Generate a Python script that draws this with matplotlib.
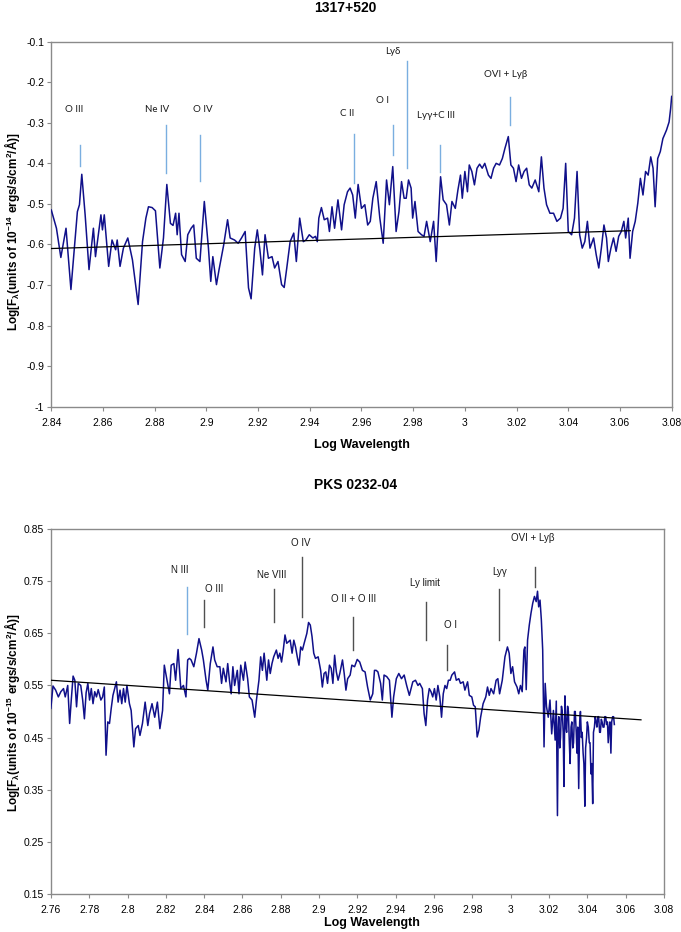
import numpy as np
import matplotlib
matplotlib.use('Agg')
import matplotlib.pyplot as plt
from matplotlib import rcParams
from matplotlib.ticker import FuncFormatter

###############################################################################
# Plotting style
###############################################################################
rcParams.update({'font.family': ['Liberation Sans', 'DejaVu Sans'],
                 'mathtext.fontset': 'custom',
                 'mathtext.rm': 'Liberation Sans:bold',
                 'mathtext.it': 'Liberation Sans:bold',
                 'mathtext.bf': 'Liberation Sans:bold',
                 'mathtext.default': 'bf'})

SPEC_COLOR = '#10108a'
AXIS_COLOR = '#8a8a8a'
LINE_BLUE = '#7aaee0'
LINE_GRAY = '#505050'
TICK_FONT = ['Liberation Sans Narrow', 'Liberation Sans', 'DejaVu Sans']
NOTE_FONT = ['Lato', 'Open Sans', 'DejaVu Sans']

###############################################################################
# Data: 1317+520
###############################################################################
top_x = [2.8400, 2.8420, 2.8437, 2.8457, 2.8476, 2.8501, 2.8509, 2.8518, 2.8531, 2.8546,
         2.8563, 2.8571, 2.8592, 2.8598, 2.8605, 2.8622, 2.8635, 2.8649, 2.8655, 2.8666,
         2.8679, 2.8696, 2.8714, 2.8736, 2.8753, 2.8766, 2.8776, 2.8790, 2.8803, 2.8820,
         2.8834, 2.8847, 2.8861, 2.8871, 2.8881, 2.8887, 2.8894, 2.8904, 2.8918, 2.8928,
         2.8941, 2.8951, 2.8961, 2.8975, 2.8992, 2.9008, 2.9017, 2.9025, 2.9039, 2.9049,
         2.9067, 2.9082, 2.9092, 2.9109, 2.9123, 2.9136, 2.9150, 2.9163, 2.9173, 2.9187,
         2.9197, 2.9207, 2.9217, 2.9227, 2.9240, 2.9254, 2.9264, 2.9277, 2.9291, 2.9301,
         2.9311, 2.9324, 2.9338, 2.9348, 2.9361, 2.9375, 2.9385, 2.9398, 2.9412, 2.9422,
         2.9429, 2.9435, 2.9445, 2.9456, 2.9469, 2.9476, 2.9486, 2.9496, 2.9509, 2.9523,
         2.9533, 2.9546, 2.9556, 2.9566, 2.9576, 2.9587, 2.9600, 2.9613, 2.9624, 2.9634,
         2.9644, 2.9657, 2.9671, 2.9684, 2.9697, 2.9708, 2.9721, 2.9734, 2.9745, 2.9755,
         2.9765, 2.9773, 2.9782, 2.9792, 2.9798, 2.9807, 2.9819, 2.9832, 2.9842, 2.9852,
         2.9866, 2.9879, 2.9889, 2.9896, 2.9906, 2.9916, 2.9929, 2.9940, 2.9950, 2.9963,
         2.9973, 2.9983, 2.9990, 3.0000, 3.0010, 3.0017, 3.0027, 3.0037, 3.0047, 3.0057,
         3.0067, 3.0077, 3.0091, 3.0101, 3.0111, 3.0121, 3.0134, 3.0145, 3.0155, 3.0168,
         3.0178, 3.0188, 3.0198, 3.0208, 3.0219, 3.0229, 3.0239, 3.0249, 3.0259, 3.0272,
         3.0286, 3.0296, 3.0306, 3.0316, 3.0329, 3.0343, 3.0356, 3.0370, 3.0380, 3.0390,
         3.0400, 3.0413, 3.0424, 3.0434, 3.0444, 3.0454, 3.0464, 3.0474, 3.0484, 3.0498,
         3.0508, 3.0518, 3.0528, 3.0538, 3.0548, 3.0555, 3.0565, 3.0575, 3.0585, 3.0595,
         3.0605, 3.0615, 3.0622, 3.0632, 3.0639, 3.0649, 3.0659, 3.0669, 3.0679, 3.0689,
         3.0699, 3.0709, 3.0719, 3.0728, 3.0736, 3.0746, 3.0756, 3.0766, 3.0780, 3.0790,
         3.0796, 3.0800]
top_y = [-0.515, -0.560, -0.632, -0.560, -0.711, -0.519, -0.502, -0.427, -0.527, -0.662,
         -0.560, -0.630, -0.527, -0.564, -0.527, -0.654, -0.589, -0.613, -0.589, -0.654,
         -0.609, -0.584, -0.638, -0.748, -0.593, -0.535, -0.507, -0.509, -0.517, -0.658,
         -0.584, -0.452, -0.548, -0.553, -0.523, -0.576, -0.523, -0.625, -0.642, -0.576,
         -0.560, -0.552, -0.634, -0.642, -0.494, -0.609, -0.691, -0.630, -0.699, -0.662,
         -0.601, -0.539, -0.584, -0.589, -0.597, -0.584, -0.568, -0.707, -0.734, -0.609,
         -0.564, -0.613, -0.675, -0.576, -0.634, -0.630, -0.658, -0.642, -0.699, -0.706,
         -0.658, -0.593, -0.572, -0.642, -0.535, -0.593, -0.589, -0.576, -0.584, -0.580,
         -0.593, -0.535, -0.509, -0.539, -0.535, -0.568, -0.507, -0.560, -0.490, -0.564,
         -0.502, -0.470, -0.461, -0.478, -0.535, -0.452, -0.511, -0.502, -0.552, -0.543,
         -0.486, -0.445, -0.535, -0.597, -0.441, -0.502, -0.408, -0.568, -0.519, -0.445,
         -0.486, -0.486, -0.441, -0.461, -0.535, -0.494, -0.568, -0.576, -0.580, -0.543,
         -0.593, -0.543, -0.642, -0.560, -0.433, -0.490, -0.502, -0.552, -0.494, -0.511,
         -0.466, -0.429, -0.486, -0.420, -0.470, -0.404, -0.420, -0.453, -0.412, -0.402,
         -0.412, -0.400, -0.429, -0.437, -0.412, -0.400, -0.404, -0.388, -0.363, -0.334,
         -0.404, -0.412, -0.445, -0.404, -0.437, -0.420, -0.412, -0.453, -0.461, -0.441,
         -0.470, -0.384, -0.461, -0.502, -0.523, -0.523, -0.543, -0.535, -0.511, -0.400,
         -0.568, -0.576, -0.535, -0.420, -0.576, -0.609, -0.593, -0.543, -0.609, -0.584,
         -0.625, -0.658, -0.609, -0.552, -0.584, -0.642, -0.609, -0.584, -0.617, -0.580,
         -0.568, -0.543, -0.584, -0.535, -0.634, -0.568, -0.543, -0.498, -0.437, -0.478,
         -0.420, -0.429, -0.384, -0.412, -0.507, -0.388, -0.371, -0.339, -0.318, -0.298,
         -0.265, -0.235]
top_cont_x = [2.840, 3.064]
top_cont_y = [-0.610, -0.566]

top_names = ['O III', 'Ne IV', 'O IV', 'C II', 'O I', 'Lyδ', 'Lyγ+C III', 'OVI + Lyβ']
top_line_x = [2.8513, 2.8844, 2.8975, 2.9573, 2.9723, 2.9775, 2.9904, 3.0176]
top_line_top = [-0.355, -0.306, -0.330, -0.328, -0.306, -0.148, -0.355, -0.236]
top_line_bot = [-0.407, -0.423, -0.444, -0.448, -0.380, -0.412, -0.421, -0.305]
top_label_x = [2.8487, 2.8810, 2.8987, 2.9546, 2.9680, 2.9723, 2.9890, 3.0156]
top_label_y = [-0.267, -0.268, -0.268, -0.276, -0.244, -0.125, -0.281, -0.182]

###############################################################################
# Data: PKS 0232-04
###############################################################################
bot_x = [2.7600, 2.7611, 2.7625, 2.7639, 2.7652, 2.7666, 2.7675, 2.7688, 2.7698, 2.7707,
         2.7716, 2.7725, 2.7734, 2.7743, 2.7756, 2.7766, 2.7775, 2.7784, 2.7793, 2.7802,
         2.7811, 2.7820, 2.7829, 2.7838, 2.7847, 2.7861, 2.7870, 2.7879, 2.7888, 2.7897,
         2.7906, 2.7915, 2.7924, 2.7933, 2.7942, 2.7951, 2.7961, 2.7970, 2.7979, 2.7988,
         2.7997, 2.8010, 2.8019, 2.8033, 2.8042, 2.8056, 2.8065, 2.8078, 2.8092, 2.8106,
         2.8115, 2.8128, 2.8142, 2.8156, 2.8169, 2.8183, 2.8192, 2.8205, 2.8219, 2.8228,
         2.8242, 2.8251, 2.8264, 2.8278, 2.8292, 2.8305, 2.8314, 2.8323, 2.8332, 2.8346,
         2.8360, 2.8373, 2.8387, 2.8396, 2.8410, 2.8419, 2.8432, 2.8446, 2.8455, 2.8468,
         2.8482, 2.8491, 2.8500, 2.8514, 2.8523, 2.8532, 2.8541, 2.8550, 2.8559, 2.8573,
         2.8582, 2.8591, 2.8605, 2.8614, 2.8627, 2.8636, 2.8650, 2.8664, 2.8673, 2.8686,
         2.8695, 2.8704, 2.8713, 2.8727, 2.8736, 2.8745, 2.8754, 2.8763, 2.8777, 2.8786,
         2.8795, 2.8804, 2.8813, 2.8822, 2.8831, 2.8840, 2.8849, 2.8859, 2.8868, 2.8877,
         2.8886, 2.8895, 2.8904, 2.8913, 2.8922, 2.8936, 2.8945, 2.8954, 2.8963, 2.8972,
         2.8981, 2.8995, 2.9008, 2.9017, 2.9026, 2.9035, 2.9044, 2.9054, 2.9063, 2.9072,
         2.9081, 2.9090, 2.9099, 2.9108, 2.9122, 2.9131, 2.9140, 2.9149, 2.9162, 2.9171,
         2.9185, 2.9199, 2.9212, 2.9226, 2.9240, 2.9253, 2.9267, 2.9280, 2.9289, 2.9298,
         2.9307, 2.9321, 2.9330, 2.9339, 2.9353, 2.9367, 2.9380, 2.9389, 2.9403, 2.9416,
         2.9430, 2.9444, 2.9457, 2.9471, 2.9480, 2.9489, 2.9503, 2.9516, 2.9525, 2.9539,
         2.9548, 2.9557, 2.9566, 2.9575, 2.9584, 2.9593, 2.9602, 2.9611, 2.9620, 2.9630,
         2.9639, 2.9648, 2.9657, 2.9666, 2.9675, 2.9684, 2.9693, 2.9707, 2.9716, 2.9729,
         2.9738, 2.9752, 2.9761, 2.9775, 2.9784, 2.9797, 2.9806, 2.9815, 2.9825, 2.9834,
         2.9843, 2.9856, 2.9870, 2.9879, 2.9888, 2.9897, 2.9911, 2.9924, 2.9933, 2.9942,
         2.9956, 2.9970, 2.9983, 2.9992, 3.0001, 3.0010, 3.0020, 3.0033, 3.0042, 3.0051,
         3.0060, 3.0069, 3.0074, 3.0081, 3.0088, 3.0097, 3.0106, 3.0115, 3.0124, 3.0133,
         3.0140, 3.0146, 3.0153, 3.0160, 3.0167, 3.0174, 3.0180, 3.0187, 3.0196, 3.0205,
         3.0214, 3.0223, 3.0232, 3.0238, 3.0244, 3.0248, 3.0251, 3.0256, 3.0260, 3.0265,
         3.0269, 3.0274, 3.0278, 3.0283, 3.0288, 3.0292, 3.0297, 3.0301, 3.0306, 3.0310,
         3.0315, 3.0319, 3.0324, 3.0328, 3.0333, 3.0337, 3.0342, 3.0346, 3.0350, 3.0355,
         3.0360, 3.0364, 3.0369, 3.0373, 3.0378, 3.0382, 3.0387, 3.0391, 3.0396, 3.0400,
         3.0405, 3.0410, 3.0414, 3.0419, 3.0423, 3.0428, 3.0432, 3.0437, 3.0441, 3.0446,
         3.0450, 3.0455, 3.0459, 3.0464, 3.0468, 3.0473, 3.0477, 3.0482, 3.0487, 3.0491,
         3.0496, 3.0500, 3.0505, 3.0509, 3.0514, 3.0518, 3.0523, 3.0527, 3.0532, 3.0537,
         3.0541]
bot_y = [0.506, 0.549, 0.541, 0.528, 0.538, 0.544, 0.528, 0.550, 0.477, 0.525,
         0.568, 0.560, 0.509, 0.554, 0.550, 0.522, 0.486, 0.536, 0.554, 0.522,
         0.544, 0.515, 0.538, 0.528, 0.542, 0.522, 0.528, 0.547, 0.416, 0.480,
         0.477, 0.506, 0.531, 0.544, 0.557, 0.518, 0.541, 0.515, 0.544, 0.518,
         0.550, 0.515, 0.502, 0.432, 0.467, 0.473, 0.454, 0.477, 0.518, 0.473,
         0.496, 0.515, 0.489, 0.518, 0.467, 0.502, 0.589, 0.563, 0.534, 0.589,
         0.592, 0.560, 0.619, 0.544, 0.550, 0.528, 0.599, 0.602, 0.599, 0.586,
         0.612, 0.640, 0.618, 0.599, 0.560, 0.541, 0.592, 0.624, 0.599, 0.586,
         0.586, 0.554, 0.583, 0.557, 0.592, 0.560, 0.534, 0.586, 0.550, 0.579,
         0.534, 0.589, 0.560, 0.595, 0.563, 0.528, 0.522, 0.489, 0.522, 0.560,
         0.605, 0.579, 0.612, 0.560, 0.599, 0.573, 0.592, 0.605, 0.618, 0.602,
         0.612, 0.595, 0.618, 0.647, 0.631, 0.634, 0.637, 0.612, 0.637, 0.624,
         0.605, 0.589, 0.624, 0.618, 0.631, 0.650, 0.671, 0.666, 0.644, 0.612,
         0.602, 0.605, 0.579, 0.547, 0.573, 0.576, 0.554, 0.589, 0.583, 0.554,
         0.608, 0.576, 0.560, 0.573, 0.599, 0.573, 0.541, 0.563, 0.570, 0.589,
         0.586, 0.600, 0.595, 0.579, 0.576, 0.547, 0.522, 0.534, 0.579, 0.579,
         0.576, 0.554, 0.522, 0.570, 0.567, 0.560, 0.489, 0.528, 0.563, 0.573,
         0.563, 0.570, 0.550, 0.531, 0.544, 0.557, 0.560, 0.550, 0.554, 0.544,
         0.496, 0.473, 0.522, 0.544, 0.538, 0.528, 0.544, 0.522, 0.550, 0.528,
         0.489, 0.534, 0.550, 0.544, 0.560, 0.560, 0.570, 0.576, 0.560, 0.563,
         0.554, 0.557, 0.541, 0.557, 0.531, 0.528, 0.512, 0.509, 0.451, 0.464,
         0.489, 0.515, 0.528, 0.547, 0.531, 0.544, 0.534, 0.560, 0.563, 0.534,
         0.560, 0.605, 0.624, 0.612, 0.573, 0.586, 0.557, 0.547, 0.534, 0.550,
         0.538, 0.618, 0.624, 0.542, 0.637, 0.666, 0.689, 0.708, 0.721, 0.711,
         0.731, 0.701, 0.714, 0.676, 0.618, 0.432, 0.554, 0.509, 0.489, 0.522,
         0.457, 0.502, 0.445, 0.520, 0.300, 0.470, 0.490, 0.430, 0.450, 0.510,
         0.500, 0.460, 0.356, 0.530, 0.470, 0.460, 0.510, 0.500, 0.440, 0.400,
         0.470, 0.480, 0.430, 0.440, 0.500, 0.500, 0.460, 0.420, 0.470, 0.352,
         0.480, 0.500, 0.450, 0.460, 0.420, 0.400, 0.318, 0.430, 0.450, 0.480,
         0.470, 0.440, 0.440, 0.380, 0.400, 0.323, 0.460, 0.470, 0.490, 0.480,
         0.470, 0.490, 0.490, 0.460, 0.460, 0.485, 0.480, 0.470, 0.470, 0.490,
         0.490, 0.475, 0.480, 0.440, 0.470, 0.480, 0.420, 0.480, 0.490, 0.490,
         0.475]
bot_cont_x = [2.760, 3.068]
bot_cont_y = [0.560, 0.484]

bot_names = ['N III', 'O III', 'Ne VIII', 'O IV', 'O II + O III', 'Ly limit', 'O I', 'Lyγ',
             'OVI + Lyβ']
bot_line_x = [2.8312, 2.8398, 2.8766, 2.8910, 2.9178, 2.9559, 2.9670, 2.9938, 3.0126]
bot_line_top = [0.739, 0.715, 0.735, 0.796, 0.681, 0.710, 0.628, 0.736, 0.777]
bot_line_bot = [0.648, 0.663, 0.671, 0.682, 0.619, 0.638, 0.579, 0.637, 0.739]
bot_label_x = [2.8271, 2.8450, 2.8752, 2.8906, 2.9178, 2.9552, 2.9686, 2.9942, 3.0113]
bot_label_y = [0.772, 0.736, 0.763, 0.823, 0.716, 0.747, 0.666, 0.767, 0.833]
bot_line_colors = [LINE_BLUE] + [LINE_GRAY] * 8


###############################################################################
# Plot
###############################################################################
def style_axes(ax, xticks, yticks):
    ax.set_xlim(xticks[0], xticks[-1])
    ax.set_ylim(yticks[0], yticks[-1])
    ax.set_xticks(xticks)
    ax.set_yticks(yticks)
    fmt = FuncFormatter(lambda v, pos: '%g' % round(v, 3))
    ax.xaxis.set_major_formatter(fmt)
    ax.yaxis.set_major_formatter(fmt)
    for sp in ax.spines.values():
        sp.set_color(AXIS_COLOR)
        sp.set_linewidth(1.0)
    ax.tick_params(axis='both', direction='out', length=3, width=0.8,
                   color=AXIS_COLOR, labelsize=7.5, pad=2)
    ax.tick_params(axis='x', pad=5)
    for lab in ax.get_xticklabels() + ax.get_yticklabels():
        lab.set_family(TICK_FONT)


def draw_panel(ax, x, y, cx, cy, lx, ltop, lbot, colors, names, tx, ty, note_font):
    ax.plot(x, y, color=SPEC_COLOR, linewidth=1.1, zorder=3)
    ax.plot(cx, cy, color='black', linewidth=0.9, zorder=4)
    for i in range(len(names)):
        ax.plot([lx[i], lx[i]], [lbot[i], ltop[i]], color=colors[i], linewidth=1.0, zorder=2)
        ax.text(tx[i], ty[i], names[i], ha='center', va='center', fontsize=7,
                family=note_font, color='#1a1a1a')


fig = plt.figure(figsize=(6.81, 9.32), dpi=100)

ax1 = fig.add_axes([0.0753, 0.5636, 0.911, 0.3917])
draw_panel(ax1, top_x, top_y, top_cont_x, top_cont_y, top_line_x, top_line_top, top_line_bot,
           [LINE_BLUE] * len(top_names), top_names, top_label_x, top_label_y, NOTE_FONT)
style_axes(ax1, np.round(np.arange(2.84, 3.0801, 0.02), 2), np.round(np.arange(-1.0, -0.0999, 0.1), 1))

ax2 = fig.add_axes([0.0747, 0.0411, 0.9003, 0.3910])
draw_panel(ax2, bot_x, bot_y, bot_cont_x, bot_cont_y, bot_line_x, bot_line_top, bot_line_bot,
           bot_line_colors, bot_names, bot_label_x, bot_label_y,
           ['Liberation Sans', 'DejaVu Sans'])
style_axes(ax2, np.round(np.arange(2.76, 3.0801, 0.02), 2), np.round(np.arange(0.15, 0.8501, 0.1), 2))

fig.text(0.5066, 0.9914, '1317+520', ha='center', va='center', fontsize=10, weight='bold')
fig.text(0.5316, 0.5225, 'Log Wavelength', ha='center', va='center', fontsize=9, weight='bold')
fig.text(0.0176, 0.751, r'Log[F$_{\lambda}$(units of 10$^{-14}$ ergs/s/cm$^{2}$/Å)]',
         ha='center', va='center', rotation=90, fontsize=8.5, weight='bold')

fig.text(0.5228, 0.4796, 'PKS 0232-04', ha='center', va='center', fontsize=10, weight='bold')
fig.text(0.5460, 0.0097, 'Log Wavelength', ha='center', va='center', fontsize=9, weight='bold')
fig.text(0.0176, 0.235, r'Log[F$_{\lambda}$(units of 10$^{-15}$ ergs/s/cm$^{2}$/Å)]',
         ha='center', va='center', rotation=90, fontsize=8.5, weight='bold')

fig.savefig('out.png', dpi=100)
